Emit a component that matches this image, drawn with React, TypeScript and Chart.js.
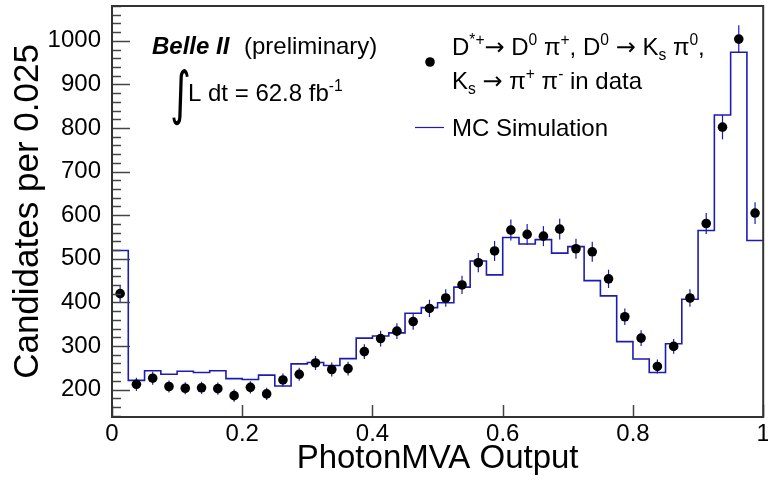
import React, { useEffect, useRef } from "react";
import { Chart, registerables } from "chart.js";

Chart.register(...registerables);

// ---- data ----
const binLow = 0;
const binWidth = 0.025;
const dataCounts = [420, 212, 226, 207, 203, 204, 202, 186, 205, 190, 222, 235, 261, 246, 248, 287, 317, 334, 356, 386, 410, 440, 491, 518, 566, 556, 552, 568, 523, 516, 454, 367, 318, 253, 299, 410, 581, 802, 1004, 605];
const dataErrors = [20, 15, 15, 14, 14, 14, 14, 14, 14, 14, 15, 15, 16, 16, 16, 17, 18, 18, 19, 20, 20, 21, 22, 23, 24, 24, 23, 24, 23, 23, 21, 19, 18, 16, 17, 20, 24, 28, 32, 25];
const mcCounts = [519, 221, 243, 235, 242, 239, 243, 225, 223, 233, 208, 259, 262, 255, 271, 318, 323, 330, 375, 388, 399, 435, 495, 463, 549, 534, 544, 513, 528, 450, 415, 310, 270, 239, 305, 407, 565, 830, 974, 542];
const xTickValues = [0, 0.2, 0.4, 0.6, 0.8, 1];
const yTickValues = [200, 300, 400, 500, 600, 700, 800, 900, 1000];
const yMin = 137;
const yMax = 1080;
const yMinorStep = 20;

const FONT = "'Liberation Sans', Arial, Helvetica, sans-serif";
const ARROW_FONT = "'DejaVu Sans', sans-serif";
const MC_COLOR = "#1c1cb4";

type Seg = { t: string; k?: "sup" | "sub"; f?: string };

function drawRich(ctx: CanvasRenderingContext2D, x: number, y: number, segs: Seg[], size: number, style = "") {
  let cx = x;
  for (const s of segs) {
    let fs = size;
    let dy = 0;
    if (s.k === "sup") { fs = size * 0.65; dy = -size * 0.42; }
    if (s.k === "sub") { fs = size * 0.65; dy = size * 0.2; }
    ctx.font = `${style}${fs}px ${s.f || FONT}`;
    ctx.fillText(s.t, cx, y + dy);
    cx += ctx.measureText(s.t).width;
  }
  return cx;
}

const ARROW: Seg = { t: "\u2192", f: ARROW_FONT };

const decorPlugin = {
  id: "rootDecor",
  afterDatasetDraw(chart: any, args: any) {
    if (args.index !== 1) return;
    const ctx = chart.ctx as CanvasRenderingContext2D;
    const xs = chart.scales.x;
    const ys = chart.scales.y;
    ctx.save();
    ctx.strokeStyle = MC_COLOR;
    ctx.lineWidth = 1.2;
    dataCounts.forEach((v, i) => {
      const px = xs.getPixelForValue(binLow + (i + 0.5) * binWidth);
      const e = dataErrors[i];
      ctx.beginPath();
      ctx.moveTo(px, ys.getPixelForValue(v - e));
      ctx.lineTo(px, ys.getPixelForValue(v + e));
      ctx.stroke();
    });
    ctx.restore();
  },
  afterDatasetsDraw(chart: any) {
    const ctx = chart.ctx as CanvasRenderingContext2D;
    const { left, right, top, bottom } = chart.chartArea;
    const xs = chart.scales.x;
    const ys = chart.scales.y;
    ctx.save();
    ctx.strokeStyle = "#444";
    ctx.lineWidth = 1.5;
    for (let v = Math.ceil(yMin / yMinorStep) * yMinorStep; v <= yMax; v += yMinorStep) {
      const py = Math.round(ys.getPixelForValue(v)) + 0.5;
      const major = yTickValues.includes(v);
      ctx.beginPath();
      ctx.moveTo(left, py);
      ctx.lineTo(left + (major ? 18 : 9), py);
      ctx.stroke();
    }
    xTickValues.forEach((v) => {
      const px = Math.round(xs.getPixelForValue(v)) + 0.5;
      ctx.beginPath();
      ctx.moveTo(px, bottom);
      ctx.lineTo(px, bottom - 12);
      ctx.stroke();
    });
    ctx.strokeStyle = "#333";
    ctx.lineWidth = 2;
    ctx.strokeRect(left, top, right - left, bottom - top);
    ctx.restore();
  },
  afterDraw(chart: any) {
    const ctx = chart.ctx as CanvasRenderingContext2D;
    ctx.save();
    ctx.fillStyle = "#000";
    ctx.textBaseline = "alphabetic";
    ctx.textAlign = "left";
    ctx.font = `italic bold 24px ${FONT}`;
    ctx.fillText("Belle II", 152, 54);
    ctx.font = `24px ${FONT}`;
    ctx.fillText("(preliminary)", 244, 54);
    ctx.save();
    ctx.font = `40px ${ARROW_FONT}`;
    ctx.translate(170, 113);
    ctx.scale(1, 1.45);
    ctx.fillText("\u222B", 0, 0);
    ctx.restore();
    drawRich(ctx, 188, 101, [{ t: "L dt = 62.8 fb" }, { t: "-1", k: "sup" }], 24);
    ctx.beginPath();
    ctx.arc(430, 62, 4.8, 0, Math.PI * 2);
    ctx.fill();
    drawRich(ctx, 452, 55, [
      { t: "D" }, { t: "*+", k: "sup" }, ARROW, { t: " D" }, { t: "0", k: "sup" }, { t: " \u03C0" }, { t: "+", k: "sup" },
      { t: ", D" }, { t: "0", k: "sup" }, { t: " " }, ARROW, { t: " K" }, { t: "s", k: "sub" }, { t: " \u03C0" }, { t: "0", k: "sup" }, { t: "," },
    ], 24);
    drawRich(ctx, 452, 89, [
      { t: "K" }, { t: "s", k: "sub" }, { t: " " }, ARROW, { t: " \u03C0" }, { t: "+", k: "sup" }, { t: " \u03C0" }, { t: "-", k: "sup" }, { t: " in data" },
    ], 24);
    ctx.strokeStyle = MC_COLOR;
    ctx.lineWidth = 1.2;
    ctx.beginPath();
    ctx.moveTo(415, 127.5);
    ctx.lineTo(444, 127.5);
    ctx.stroke();
    ctx.font = `24px ${FONT}`;
    ctx.fillText("MC Simulation", 452, 136);
    ctx.restore();
  },
};

export default function App() {
  const ref = useRef<HTMLCanvasElement>(null);
  useEffect(() => {
    const canvas = ref.current;
    if (!canvas) return;
    const dataPts = dataCounts.map((v, i) => ({ x: binLow + (i + 0.5) * binWidth, y: v }));
    const mcPts = mcCounts.map((v, i) => ({ x: binLow + i * binWidth, y: v }));
    mcPts.push({ x: binLow + mcCounts.length * binWidth, y: mcCounts[mcCounts.length - 1] });
    const chart = new Chart(canvas, {
      type: "line",
      data: {
        datasets: [
          {
            label: "data",
            data: dataPts,
            showLine: false,
            pointRadius: 4.8,
            pointHoverRadius: 4.8,
            pointBackgroundColor: "#000",
            pointBorderColor: "#000",
            pointBorderWidth: 0,
          },
          {
            label: "MC Simulation",
            data: mcPts,
            stepped: true,
            borderColor: MC_COLOR,
            borderWidth: 1.6,
            pointRadius: 0,
            fill: false,
          },
        ],
      },
      options: {
        animation: false,
        responsive: false,
        layout: { padding: { top: 6, right: 3, left: 0, bottom: 0 } },
        plugins: { legend: { display: false }, tooltip: { enabled: false } },
        scales: {
          x: {
            type: "linear",
            min: 0,
            max: 1,
            afterFit: (s: any) => { s.height = 68; s.paddingLeft = 0; s.paddingRight = 0; },
            afterBuildTicks: (s: any) => { s.ticks = xTickValues.map((v) => ({ value: v })); },
            ticks: {
              callback: (v: any) => String(v),
              font: { family: FONT, size: 24 },
              color: "#000",
              padding: 3,
              maxRotation: 0,
              autoSkip: false,
            },
            grid: { display: false, drawTicks: false },
            border: { display: false },
            title: {
              display: true,
              text: "PhotonMVA Output",
              font: { family: FONT, size: 33, lineHeight: 1 },
              color: "#000",
              padding: { top: 0, bottom: 10 },
            },
          },
          y: {
            type: "linear",
            min: yMin,
            max: yMax,
            afterFit: (s: any) => { s.width = 112; s.paddingTop = 0; s.paddingBottom = 0; },
            afterBuildTicks: (s: any) => { s.ticks = yTickValues.map((v) => ({ value: v })); },
            ticks: {
              callback: (v: any) => String(v),
              font: { family: FONT, size: 24 },
              color: "#000",
              padding: 11,
            },
            grid: { display: false, drawTicks: false },
            border: { display: false },
            title: {
              display: true,
              text: "Candidates per 0.025",
              font: { family: FONT, size: 35, lineHeight: 1 },
              color: "#000",
              padding: { top: 11, bottom: 0 },
            },
          },
        },
      },
      plugins: [decorPlugin],
    } as any);
    return () => chart.destroy();
  }, []);
  return (
    <div style={{ position: "absolute", left: 0, top: 0, width: 768, height: 485, background: "#fff" }}>
      <canvas ref={ref} width={768} height={485} />
    </div>
  );
}
